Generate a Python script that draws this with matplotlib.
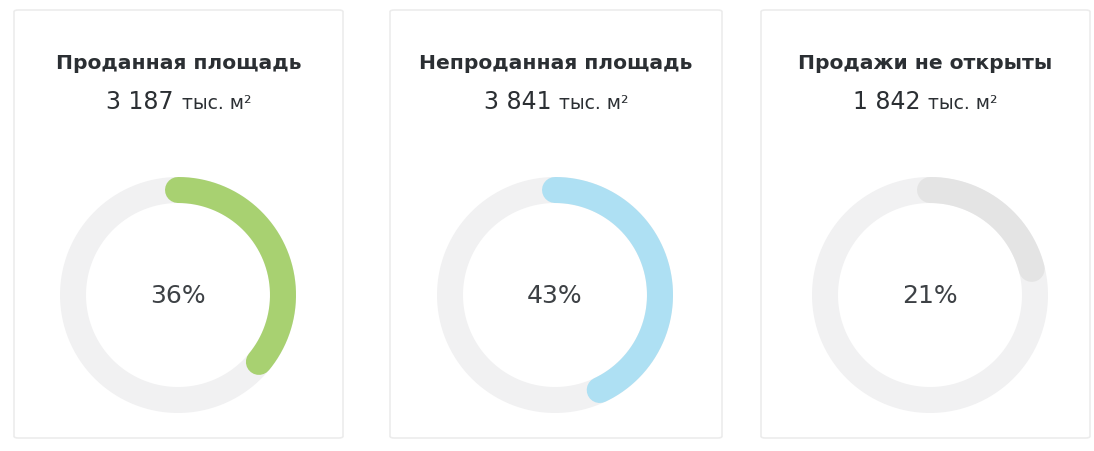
import numpy as np
import matplotlib
matplotlib.use("Agg")
import matplotlib.pyplot as plt
from matplotlib.patches import FancyBboxPatch

titles = ["Проданная площадь", "Непроданная площадь", "Продажи не открыты"]
areas = ["3 187", "3 841", "1 842"]
unit = "тыс. м²"
shares = [36, 43, 21]
colors = ["#a8d171", "#aee0f3", "#e4e4e4"]

W, H = 1094, 452
fig = plt.figure(figsize=(W / 100, H / 100), dpi=100)
fig.patch.set_facecolor("white")

plt.rcParams["font.family"] = ["DejaVu Sans"]

# card boxes (pixel coordinates: left, right)
cards = [(14, 343), (390, 722), (761, 1090)]
card_top, card_bottom = 11, 439
centers = [(178, 296), (555, 296), (930, 296)]

text_color = "#2b2f33"
R_px = 105          # radius of the ring centre line
ring_w_px = 26      # ring thickness

renderer = fig.canvas.get_renderer()

for i in range(3):
    x0, x1 = cards[i]
    box = FancyBboxPatch((x0 / W, 1 - card_bottom / H),
                         (x1 - x0) / W, (card_bottom - card_top) / H,
                         boxstyle="round,pad=0,rounding_size=0.004",
                         transform=fig.transFigure, facecolor="white",
                         edgecolor="#ececec", linewidth=1.2, zorder=-5)
    fig.patches.append(box)

    cx = (x0 + x1) / 2
    fig.text(cx / W, 1 - 69 / H, titles[i], ha="center", va="baseline",
             fontsize=14.6, fontweight="bold", color=text_color)

    # value line: big number + smaller unit, centred together
    t_num = fig.text(0, 1 - 109 / H, areas[i], ha="left", va="baseline",
                     fontsize=17, color=text_color)
    t_unit = fig.text(0, 1 - 109 / H, unit, ha="left", va="baseline",
                      fontsize=13.5, color=text_color)
    w_num = t_num.get_window_extent(renderer).width
    w_unit = t_unit.get_window_extent(renderer).width
    gap = 8
    total = w_num + gap + w_unit
    start = cx - total / 2
    t_num.set_x(start / W)
    t_unit.set_x((start + w_num + gap) / W)

    # donut
    ccx, ccy = centers[i]
    half = 1.25 * R_px
    ax = fig.add_axes([(ccx - half) / W, 1 - (ccy + half) / H,
                       2 * half / W, 2 * half / H])
    ax.set_xlim(-1.25, 1.25)
    ax.set_ylim(-1.25, 1.25)
    ax.set_aspect("equal")
    ax.axis("off")
    lw = ring_w_px * 72 / 100
    t_full = np.linspace(0, 2 * np.pi, 400)
    ax.plot(np.sin(t_full), np.cos(t_full), color="#f1f1f2", lw=lw,
            solid_capstyle="butt", zorder=1)
    t_arc = np.linspace(0, 2 * np.pi * shares[i] / 100, 300)
    ax.plot(np.sin(t_arc), np.cos(t_arc), color=colors[i], lw=lw,
            solid_capstyle="round", zorder=2)
    ax.text(0, 0, f"{shares[i]}%", ha="center", va="center",
            fontsize=18, color="#3d4145")

fig.savefig("out.png", dpi=100, facecolor="white")
